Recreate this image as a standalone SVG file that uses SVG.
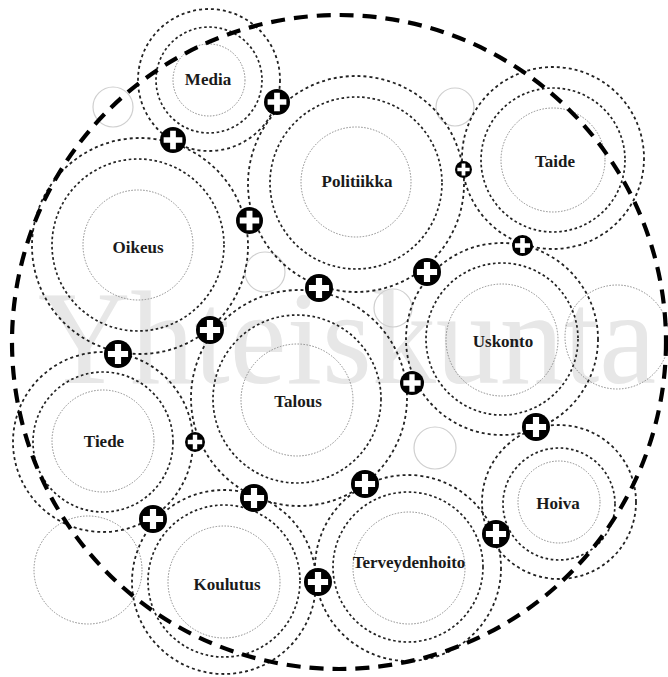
<svg xmlns="http://www.w3.org/2000/svg" xmlns:xlink="http://www.w3.org/1999/xlink" width="668" height="677" viewBox="0 0 668 677">
<style>
.inner{fill:none;stroke:#8a8a8a;stroke-width:1;stroke-dasharray:1.5 1.5}
.mid{fill:none;stroke:#222;stroke-width:1.7;stroke-dasharray:2.6 2.6}
.outer{fill:none;stroke:#222;stroke-width:1.8;stroke-dasharray:3 3}
.ghost{fill:none;stroke:#cfcfcf;stroke-width:1.2}
.gdot{fill:none;stroke:#8a8a8a;stroke-width:1;stroke-dasharray:1.5 1.5}
.big{fill:none;stroke:#000;stroke-width:4.2;stroke-dasharray:14 9}
.lbl{font-family:"Liberation Serif","Times New Roman",serif;font-weight:bold;font-size:17px;text-anchor:middle;fill:#1a1a1a}
.wm{font-family:"Liberation Serif","Times New Roman",serif;font-size:133px;fill:#e7e7e7}
</style>
<defs>
<symbol id="plus" viewBox="-1 -1 2 2">
<circle r="1" fill="#000"/>
<path d="M-0.22,-0.72h0.44v0.5h0.5v0.44h-0.5v0.5h-0.44v-0.5h-0.5v-0.44h0.5z" fill="#fff"/>
</symbol>
</defs>
<rect width="668" height="677" fill="#fff"/>
<text class="wm" x="38" y="383" textLength="618" lengthAdjust="spacingAndGlyphs">Yhteiskunta</text>
<g id="background-circles">
<circle class="ghost" cx="113" cy="107" r="20"/>
<circle class="ghost" cx="455" cy="107" r="19"/>
<circle class="ghost" cx="265" cy="272" r="20"/>
<circle class="ghost" cx="393" cy="308" r="19"/>
<circle class="ghost" cx="435" cy="448" r="21"/>
<circle class="gdot" cx="617" cy="337" r="52"/>
<circle class="gdot" cx="88" cy="570" r="54"/>
</g>
<g id="node-media">
<circle class="inner" cx="209" cy="80" r="36"/>
<circle class="mid" cx="209" cy="80" r="53"/>
<circle class="outer" cx="209" cy="80" r="71"/>
<text class="lbl" x="208" y="85">Media</text>
</g>
<g id="node-politiikka">
<circle class="inner" cx="356" cy="182" r="55"/>
<circle class="mid" cx="356" cy="183" r="86"/>
<circle class="outer" cx="356" cy="184" r="108"/>
<text class="lbl" x="357" y="187">Politiikka</text>
</g>
<g id="node-taide">
<circle class="inner" cx="553" cy="160" r="52"/>
<circle class="mid" cx="553" cy="160" r="72"/>
<circle class="outer" cx="553" cy="158" r="91"/>
<text class="lbl" x="555" y="167">Taide</text>
</g>
<g id="node-oikeus">
<circle class="inner" cx="138" cy="245" r="55"/>
<circle class="mid" cx="138" cy="245" r="86"/>
<circle class="outer" cx="140" cy="246" r="108"/>
<text class="lbl" x="138" y="253">Oikeus</text>
</g>
<g id="node-uskonto">
<circle class="inner" cx="502" cy="340" r="56"/>
<circle class="mid" cx="502" cy="339" r="76"/>
<circle class="outer" cx="502" cy="339" r="96"/>
<text class="lbl" x="503" y="347">Uskonto</text>
</g>
<g id="node-talous">
<circle class="inner" cx="297" cy="400" r="56"/>
<circle class="mid" cx="297" cy="399" r="84"/>
<circle class="outer" cx="299" cy="398" r="108"/>
<text class="lbl" x="298" y="407">Talous</text>
</g>
<g id="node-tiede">
<circle class="inner" cx="103" cy="441" r="51"/>
<circle class="mid" cx="103" cy="442" r="70"/>
<circle class="outer" cx="103" cy="442" r="90"/>
<text class="lbl" x="104" y="447">Tiede</text>
</g>
<g id="node-koulutus">
<circle class="inner" cx="224" cy="582" r="56"/>
<circle class="mid" cx="224" cy="581" r="76"/>
<circle class="outer" cx="224" cy="582" r="92"/>
<text class="lbl" x="227" y="590">Koulutus</text>
</g>
<g id="node-terveydenhoito">
<circle class="inner" cx="409" cy="568" r="56"/>
<circle class="mid" cx="408" cy="567" r="75"/>
<circle class="outer" cx="408" cy="568" r="93"/>
<text class="lbl" x="409" y="568">Terveydenhoito</text>
</g>
<g id="node-hoiva">
<circle class="inner" cx="559" cy="502" r="41"/>
<circle class="mid" cx="559" cy="504" r="56"/>
<circle class="outer" cx="559" cy="502" r="77"/>
<text class="lbl" x="558" y="509">Hoiva</text>
</g>
<g id="boundary">
<circle class="big" cx="339" cy="342" r="327"/>
</g>
<g id="connectors">
<use xlink:href="#plus" x="264" y="89" width="26" height="26"/>
<use xlink:href="#plus" x="160" y="127" width="26" height="26"/>
<use xlink:href="#plus" x="236" y="207" width="27" height="27"/>
<use xlink:href="#plus" x="455" y="161" width="17" height="17"/>
<use xlink:href="#plus" x="512" y="235" width="21" height="21"/>
<use xlink:href="#plus" x="413" y="258" width="28" height="28"/>
<use xlink:href="#plus" x="305" y="274" width="28" height="28"/>
<use xlink:href="#plus" x="196" y="316" width="28" height="28"/>
<use xlink:href="#plus" x="104" y="340" width="28" height="28"/>
<use xlink:href="#plus" x="400" y="371" width="24" height="24"/>
<use xlink:href="#plus" x="185" y="432" width="20" height="20"/>
<use xlink:href="#plus" x="522" y="413" width="28" height="28"/>
<use xlink:href="#plus" x="351" y="470" width="28" height="28"/>
<use xlink:href="#plus" x="240" y="484" width="28" height="28"/>
<use xlink:href="#plus" x="139" y="505" width="28" height="28"/>
<use xlink:href="#plus" x="482" y="520" width="28" height="28"/>
<use xlink:href="#plus" x="304" y="568" width="28" height="28"/>
</g>
</svg>
